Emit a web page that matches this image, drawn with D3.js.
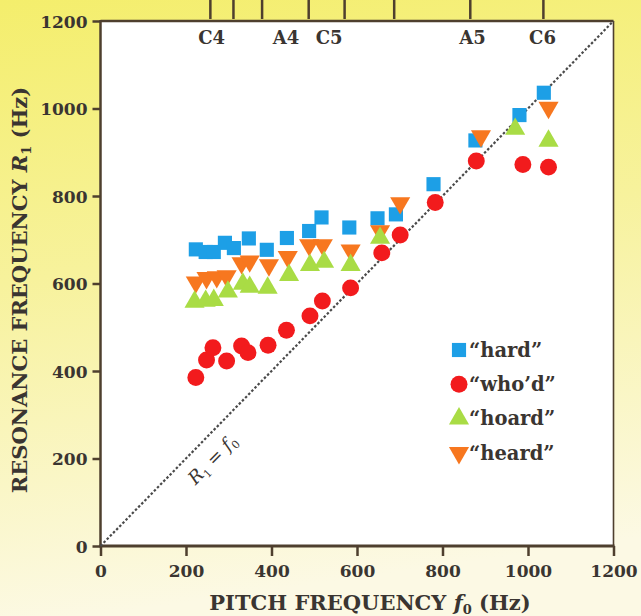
<!DOCTYPE html>
<html>
<head>
<meta charset="utf-8">
<script src="https://cdn.jsdelivr.net/npm/d3@7"></script>
<style>
  html, body { margin: 0; padding: 0; background: #fff; }
  svg { display: block; }
  text { font-family: "DejaVu Serif", serif; fill: #3a3531; }
</style>
</head>
<body>
<svg id="chart"></svg>
<script>
document.addEventListener('DOMContentLoaded', () => {

    // 1. DATOS
    // ========
    const axisTicks = [0, 200, 400, 600, 800, 1000, 1200];

    // notas (arriba)
    const noteNames = ["C4", "A4", "C5", "A5", "C6"];
    const noteFreqs = [260, 434, 535, 870, 1034];
    const keyTicks = [257, 311, 378, 487, 571, 687, 865, 1036];

    // "hard"
    const hardF = [223, 246, 265, 291, 312, 347, 389, 436, 488, 517, 582, 648, 691, 779, 877, 980, 1037];
    const hardR = [678, 672, 672, 693, 681, 703, 677, 704, 720, 751, 728, 749, 758, 827, 927, 985, 1036];

    // "heard"
    const heardF = [223, 248, 272, 295, 330, 349, 394, 438, 488, 520, 585, 654, 701, 890, 1048];
    const heardR = [603, 613, 615, 617, 647, 651, 642, 661, 688, 688, 676, 720, 784, 937, 1002];

    // "hoard"
    const hoardF = [220, 246, 265, 298, 333, 349, 391, 441, 490, 523, 585, 654, 970, 1048];
    const hoardR = [558, 560, 562, 581, 599, 592, 590, 619, 642, 649, 642, 704, 953, 926];

    // "who'd"
    const whodF = [223, 248, 263, 295, 330, 345, 392, 435, 490, 519, 585, 658, 701, 783, 879, 988, 1048];
    const whodR = [385, 425, 453, 423, 457, 442, 459, 493, 526, 560, 590, 670, 711, 785, 880, 872, 866];

    const legendLabels = ["\u201Chard\u201D", "\u201Cwho\u2019d\u201D", "\u201Choard\u201D", "\u201Cheard\u201D"];

    // 2. CONFIGURACIÓN
    // ================
    const width = 641;
    const height = 616;
    const margin = { top: 21, right: 27.5, bottom: 70, left: 100.5 };

    const x = d3.scaleLinear().domain([0, 1200]).range([margin.left, width - margin.right]);
    const y = d3.scaleLinear().domain([0, 1200]).range([height - margin.bottom, margin.top]);

    const axisColor = "#4e3f2e";

    const series = [
        { name: "hard",  f: hardF,  r: hardR,  color: "#1d9fe6", symbol: d3.symbolSquare,   size: 200, rotate: 0 },
        { name: "heard", f: heardF, r: heardR, color: "#f7771f", symbol: d3.symbolTriangle, size: 175, rotate: 180 },
        { name: "hoard", f: hoardF, r: hoardR, color: "#a9dc45", symbol: d3.symbolTriangle, size: 175, rotate: 0 },
        { name: "whod",  f: whodF,  r: whodR,  color: "#f21b1d", symbol: d3.symbolCircle,   size: 225, rotate: 0 }
    ];

    const svg = d3.select("#chart")
        .attr("width", width)
        .attr("height", height);

    // fondo amarillo
    const defs = svg.append("defs");
    const grad = defs.append("linearGradient")
        .attr("id", "bg")
        .attr("x1", 0).attr("y1", 0).attr("x2", 0.15).attr("y2", 1);
    grad.append("stop").attr("offset", "0%").attr("stop-color", "#f4ee6c");
    grad.append("stop").attr("offset", "45%").attr("stop-color", "#f7f29c");
    grad.append("stop").attr("offset", "100%").attr("stop-color", "#fcf9e4");

    svg.append("rect")
        .attr("width", width).attr("height", height)
        .attr("fill", "url(#bg)");

    // área del gráfico
    svg.append("rect")
        .attr("x", x(0)).attr("y", y(1200))
        .attr("width", x(1200) - x(0))
        .attr("height", y(0) - y(1200))
        .attr("fill", "#ffffff");

    // 3. EJES
    // =======
    const xAxis = svg.append("g")
        .attr("transform", `translate(0,${y(0)})`)
        .call(d3.axisBottom(x).tickValues(axisTicks).tickSize(10).tickPadding(6).tickFormat(d3.format("d")));

    const yAxis = svg.append("g")
        .attr("transform", `translate(${x(0)},0)`)
        .call(d3.axisLeft(y).tickValues(axisTicks).tickSize(8).tickPadding(5).tickFormat(d3.format("d")));

    [xAxis, yAxis].forEach(a => {
        a.select(".domain").remove();
        a.selectAll(".tick line").attr("stroke", axisColor).attr("stroke-width", 2.5);
        a.selectAll(".tick text")
            .attr("fill", "#3a3531")
            .style("font-family", "'DejaVu Serif', serif")
            .style("font-weight", "bold")
            .style("font-size", "17px");
    });
    xAxis.selectAll(".tick text").attr("dy", "0.9em");
    yAxis.selectAll(".tick text").attr("dy", "0.36em");

    // marco
    svg.append("line")
        .attr("x1", x(0)).attr("x2", x(1200)).attr("y1", y(1200)).attr("y2", y(1200))
        .attr("stroke", axisColor).attr("stroke-width", 2.5);
    svg.append("line")
        .attr("x1", x(1200)).attr("x2", x(1200)).attr("y1", y(1200)).attr("y2", y(0))
        .attr("stroke", axisColor).attr("stroke-width", 1.6);
    svg.append("line")
        .attr("x1", x(0)).attr("x2", x(0)).attr("y1", y(1200) - 1).attr("y2", y(0) + 1)
        .attr("stroke", axisColor).attr("stroke-width", 2.5);
    svg.append("line")
        .attr("x1", x(0) - 1).attr("x2", x(1200) + 1).attr("y1", y(0)).attr("y2", y(0))
        .attr("stroke", axisColor).attr("stroke-width", 3);

    // marcas de notas arriba
    svg.append("g").selectAll("line")
        .data(keyTicks)
        .join("line")
        .attr("x1", d => x(d)).attr("x2", d => x(d))
        .attr("y1", 0).attr("y2", y(1200) - 2)
        .attr("stroke", axisColor).attr("stroke-width", 2.5);

    svg.append("g").selectAll("text")
        .data(noteNames)
        .join("text")
        .attr("x", (d, i) => x(noteFreqs[i]))
        .attr("y", 44)
        .attr("text-anchor", "middle")
        .style("font-weight", "bold")
        .style("font-size", "18px")
        .text(d => d);

    // títulos de ejes
    const xTitle = svg.append("text")
        .attr("x", 370)
        .attr("y", 610)
        .attr("text-anchor", "middle")
        .style("font-weight", "bold")
        .style("font-size", "21px");
    xTitle.append("tspan").text("PITCH FREQUENCY ");
    xTitle.append("tspan").style("font-style", "italic").text("f");
    xTitle.append("tspan").attr("dy", 4).style("font-size", "13px").text("0");
    xTitle.append("tspan").attr("dy", -4).text(" (Hz)");

    const yTitle = svg.append("text")
        .attr("transform", `translate(27,290) rotate(-90)`)
        .attr("text-anchor", "middle")
        .style("font-weight", "bold")
        .style("font-size", "21px");
    yTitle.append("tspan").text("RESONANCE FREQUENCY ");
    yTitle.append("tspan").style("font-style", "italic").text("R");
    yTitle.append("tspan").attr("dy", 4).style("font-size", "13px").text("1");
    yTitle.append("tspan").attr("dy", -4).text(" (Hz)");

    // 4. LÍNEA R1 = f0
    // ================
    svg.append("line")
        .attr("x1", x(0)).attr("y1", y(0))
        .attr("x2", x(1200)).attr("y2", y(1200))
        .attr("stroke", "#4a4a4a")
        .attr("stroke-width", 2.2)
        .attr("stroke-dasharray", "2.5,2");

    const angle = Math.atan2(y(1200) - y(0), x(1200) - x(0)) * 180 / Math.PI;
    const diagLabel = svg.append("text")
        .attr("transform", `translate(${x(272)},${y(188)}) rotate(${angle})`)
        .attr("text-anchor", "middle")
        .style("font-size", "18px");
    diagLabel.append("tspan").style("font-style", "italic").text("R");
    diagLabel.append("tspan").attr("dy", 4).style("font-size", "11px").text("1");
    diagLabel.append("tspan").attr("dy", -4).text(" = ");
    diagLabel.append("tspan").style("font-style", "italic").text("f");
    diagLabel.append("tspan").attr("dy", 4).style("font-size", "11px").text("0");

    // 5. PUNTOS
    // =========
    series.forEach(s => {
        const sym = d3.symbol().type(s.symbol).size(s.size);
        svg.append("g").selectAll("path")
            .data(s.f.map((f, i) => [f, s.r[i]]))
            .join("path")
            .attr("d", sym)
            .attr("transform", d => `translate(${x(d[0])},${y(d[1])}) rotate(${s.rotate})`)
            .attr("fill", s.color);
    });

    // 6. LEYENDA
    // ==========
    const legendOrder = [series[0], series[3], series[2], series[1]];
    const legend = svg.append("g").attr("transform", "translate(459,350)");
    legendOrder.forEach((s, i) => {
        const row = legend.append("g").attr("transform", `translate(0,${i * 34.3})`);
        row.append("path")
            .attr("d", d3.symbol().type(s.symbol).size(s.size)())
            .attr("transform", `rotate(${s.rotate})`)
            .attr("fill", s.color);
        row.append("text")
            .attr("x", 10)
            .attr("dy", "0.35em")
            .style("font-weight", "bold")
            .style("font-size", "19.5px")
            .text(legendLabels[i]);
    });
});
</script>
</body>
</html>
